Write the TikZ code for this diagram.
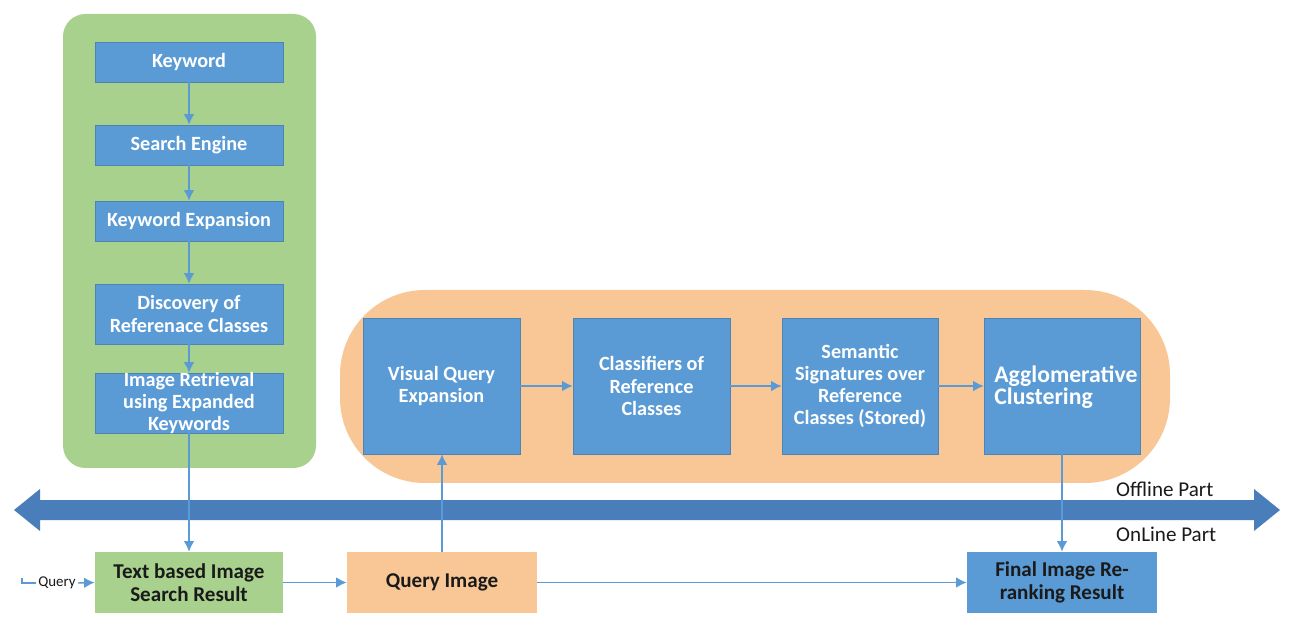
\documentclass[tikz,border=0pt]{standalone}
\usepackage{fontspec}
\setmainfont{Carlito}
\usetikzlibrary{arrows.meta}
\definecolor{pgreen}{HTML}{A9D18E}
\definecolor{pblue}{HTML}{5B9BD5}
\definecolor{porange}{HTML}{F9C796}
\definecolor{pdark}{HTML}{4A7EBB}
\definecolor{ptext}{HTML}{1A1A1A}
\begin{document}
\begin{tikzpicture}[x=0.02cm,y=-0.02cm,
  bluebox/.style={fill=pblue,draw=pblue!85!black,line width=0.3pt,text=white,font=\bfseries\fontsize{11.5}{12.6}\selectfont,align=center,inner sep=1pt},
  botbox/.style={draw=none,text=ptext,font=\bfseries\fontsize{12}{13}\selectfont,align=center,inner sep=1pt,minimum width=190*0.02cm,minimum height=61*0.02cm},
  conn/.style={draw=pblue,line width=0.8pt,-{Latex[length=6pt,width=6pt]}},
  lbl/.style={font=\fontsize{12}{14}\selectfont,text=ptext}]
\useasboundingbox (0,0) rectangle (1290,617);
\fill[white] (0,0) rectangle (1290,617);
% panels
\fill[pgreen,rounded corners=0.45cm] (63,14) rectangle (316,468);
\fill[porange,rounded corners=1.7cm] (340,290) rectangle (1170,483);
% left column
\node[bluebox,minimum width=188*0.02cm,minimum height=40*0.02cm] (kw) at (189,62) {Keyword};
\node[bluebox,minimum width=188*0.02cm,minimum height=40*0.02cm] (se) at (189,145) {Search Engine};
\node[bluebox,minimum width=188*0.02cm,minimum height=40*0.02cm] (ke) at (189,221) {Keyword Expansion};
\node[bluebox,minimum width=188*0.02cm,minimum height=60*0.02cm] (dr) at (189,314) {Discovery of\\Referenace Classes};
\node[bluebox,minimum width=188*0.02cm,minimum height=60*0.02cm,inner ysep=-2.2pt] (ir) at (189,403) {Image Retrieval\\using Expanded\\Keywords};
% offline row
\node[bluebox,minimum width=157*0.02cm,minimum height=136*0.02cm] (vqe) at (441.5,386) {Visual Query\\Expansion};
\node[bluebox,minimum width=157*0.02cm,minimum height=136*0.02cm] (cls) at (651.5,386) {Classifiers of\\Reference\\Classes};
\node[bluebox,minimum width=156*0.02cm,minimum height=136*0.02cm] (sem) at (860,386) {Semantic\\Signatures over\\Reference\\Classes (Stored)};
\node[bluebox,minimum width=156*0.02cm,minimum height=136*0.02cm] (agg) at (1062,386) {};
\node[text=white,font=\bfseries\fontsize{13.5}{11.5}\selectfont,align=left,anchor=west,inner sep=0pt] (aggt) at (994,387) {Agglomerative\\Clustering};
% big double arrow
\fill[pdark] (14,510) -- (40,489) -- (40,500) -- (1254,500) -- (1254,489) -- (1280,510) -- (1254,531) -- (1254,520) -- (40,520) -- (40,531) -- cycle;
\node[lbl,anchor=west] (off) at (1110,489) {Offline Part};
\node[lbl,anchor=west] (on) at (1110,534) {OnLine Part};
% online row
\node[botbox,fill=pgreen,minimum width=188*0.02cm] (tb) at (189,582.5) {Text based Image\\Search Result};
\node[botbox,fill=porange] (qi) at (442,582.5) {Query Image};
\node[botbox,fill=pblue] (fr) at (1062,582.5) {Final Image Re-\\ranking Result};
% query input
\coordinate (q0) at (22,583);
\node[font=\fontsize{8.5}{10}\selectfont,text=ptext,inner sep=1pt] (ql) at (57,583) {Query};
\draw[pblue,line width=0.6pt] (22,578) -- (q0) -- (ql.west);
\draw[conn] (ql.east) -- (tb.west);
% connectors
\draw[conn] (kw) -- (se);
\draw[conn] (se) -- (ke);
\draw[conn] (ke) -- (dr);
\draw[conn] (dr) -- (ir);
\draw[conn] (ir) -- (tb);
\draw[conn] (tb) -- (qi);
\draw[conn] (qi.north) -- (vqe.south -| qi.north);
\draw[conn] (vqe) -- (cls);
\draw[conn] (cls) -- (sem);
\draw[conn] (sem) -- (agg);
\draw[conn] (agg) -- (fr);
\draw[conn] (qi) -- (fr);
\end{tikzpicture}
\end{document}
